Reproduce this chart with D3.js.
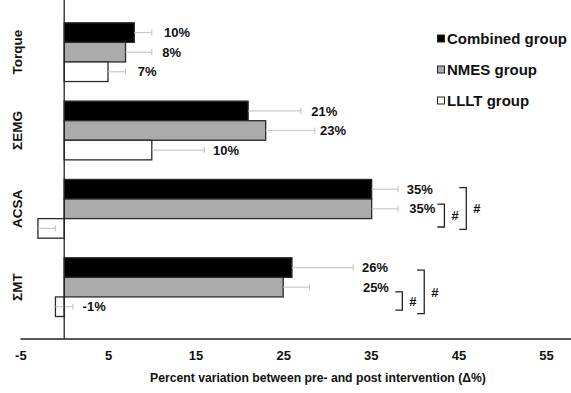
<!DOCTYPE html>
<html><head><meta charset="utf-8">
<script src="https://cdn.jsdelivr.net/npm/d3@7/dist/d3.min.js"></script>
<style>
html,body{margin:0;padding:0;background:#fff;}
svg text{font-family:"Liberation Sans",Arial,Helvetica,sans-serif;font-weight:bold;fill:#111;}
</style></head>
<body><svg id="c" width="571" height="393"></svg>
<script>
const categories = ["Torque", "ΣEMG", "ACSA", "ΣMT"];
const groups = ["Combined group", "NMES group", "LLLT group"];
// bar values (mean Δ%)
const combined = [8, 21, 35.1, 26];
const nmes = [7, 23, 35.1, 25];
const lllt = [5, 10, -3, -1];
// positive error bars
const combinedErr = [2, 6, 3, 7];
const nmesErr = [3, 5.6, 3, 3];
const llltErr = [2, 6, 2, 2];
// value labels and where they sit on the x axis (data units)
const combinedLabel = ["10%", "21%", "35%", "26%"];
const nmesLabel = ["8%", "23%", "35%", "25%"];
const llltLabel = ["7%", "10%", "", "-1%"];
const combinedLabelAt = [11.4, 28.2, 39.1, 34.0];
const nmesLabelAt = [11.2, 29.2, 39.4, 34.1];
const llltLabelAt = [8.4, 17.0, 0, 2.1];
const xTicks = [-5, 5, 15, 25, 35, 45, 55];
const xTitle = "Percent variation between pre- and post intervention (Δ%)";
// significance brackets: category, x position (data units), y span (fraction of group band)
const brackets = [
  {cat: "ACSA", x: 43.4, y0: 0.42, y1: 0.81, label: "#"},
  {cat: "ACSA", x: 45.9, y0: 0.14, y1: 0.85, label: "#"},
  {cat: "ΣMT", x: 38.6, y0: 0.58, y1: 0.89, label: "#"},
  {cat: "ΣMT", x: 41.1, y0: 0.21, y1: 0.95, label: "#"}
];

const series = [
  {name: groups[0], vals: combined, err: combinedErr, lab: combinedLabel, at: combinedLabelAt, fill: "#000000"},
  {name: groups[1], vals: nmes, err: nmesErr, lab: nmesLabel, at: nmesLabelAt, fill: "#ababab"},
  {name: groups[2], vals: lllt, err: llltErr, lab: llltLabel, at: llltLabelAt, fill: "#ffffff"}
];

const svg = d3.select("#c");
const x = d3.scaleLinear().domain([-5, 55]).range([20.4, 546.0]);
const y = d3.scaleBand().domain(categories).range([13, 326.3]).paddingInner(0.25).paddingOuter(0.125);
const yi = d3.scaleBand().domain(groups).range([0, y.bandwidth()]);

const axisY = 339;

// bars
series.forEach(s => {
  const g = svg.append("g");
  categories.forEach((c, i) => {
    const v = s.vals[i];
    const by = y(c) + yi(s.name);
    const h = yi.bandwidth();
    g.append("rect")
      .attr("x", Math.min(x(0), x(v)))
      .attr("y", by)
      .attr("width", Math.abs(x(v) - x(0)))
      .attr("height", h)
      .attr("fill", s.fill)
      .attr("stroke", "#2a2a2a")
      .attr("stroke-width", 1.3);
    // error bar (positive direction)
    const e0 = x(v), e1 = x(v + s.err[i]);
    const cy = by + h / 2;
    g.append("line").attr("x1", e0).attr("x2", e1).attr("y1", cy).attr("y2", cy)
      .attr("stroke", "#c8c8c8").attr("stroke-width", 1.2);
    g.append("line").attr("x1", e1).attr("x2", e1).attr("y1", cy - 3).attr("y2", cy + 3)
      .attr("stroke", "#c8c8c8").attr("stroke-width", 1.2);
    if (s.lab[i]) {
      g.append("text").attr("x", x(s.at[i])).attr("y", cy)
        .attr("dy", "0.36em").attr("font-size", 13).text(s.lab[i]);
    }
  });
});

// axes
svg.append("line").attr("x1", x(0)).attr("x2", x(0)).attr("y1", 0).attr("y2", axisY)
  .attr("stroke", "#222").attr("stroke-width", 1.3);
svg.append("line").attr("x1", x(-5)).attr("x2", 571).attr("y1", axisY).attr("y2", axisY)
  .attr("stroke", "#222").attr("stroke-width", 1.3);

const xAxis = d3.axisBottom(x).tickValues(xTicks).tickSize(0).tickPadding(12).tickFormat(d => String(d));
const ga = svg.append("g").attr("transform", `translate(0,${axisY})`).call(xAxis);
ga.select(".domain").remove();
ga.selectAll("text").attr("font-size", 13).attr("font-family", null).attr("fill", "#111");

svg.append("text").attr("x", 318).attr("y", 382).attr("text-anchor", "middle")
  .attr("font-size", 12.2).text(xTitle);

// category labels
categories.forEach(c => {
  const cy = y(c) + y.bandwidth() / 2;
  svg.append("text").attr("transform", `translate(17,${cy}) rotate(-90)`)
    .attr("text-anchor", "middle").attr("dy", "0.36em").attr("font-size", 13.5).text(c);
});

// legend
const leg = svg.append("g");
series.forEach((s, i) => {
  const ly = 39 + i * 31;
  leg.append("rect").attr("x", 437.5).attr("y", ly - 4).attr("width", 7).attr("height", 7)
    .attr("fill", s.fill).attr("stroke", "#222").attr("stroke-width", 1);
  leg.append("text").attr("x", 447).attr("y", ly).attr("dy", "0.36em")
    .attr("font-size", 15).text(s.name);
});

// significance brackets
brackets.forEach(b => {
  const y0 = y(b.cat) + b.y0 * y.bandwidth();
  const y1 = y(b.cat) + b.y1 * y.bandwidth();
  const bx = x(b.x);
  svg.append("path")
    .attr("d", `M${bx - 7},${y0}H${bx}V${y1}H${bx - 7}`)
    .attr("fill", "none").attr("stroke", "#222").attr("stroke-width", 1.3);
  svg.append("text").attr("x", bx + 7).attr("y", (y0 + y1) / 2)
    .attr("dy", "0.36em").attr("font-size", 13).text(b.label);
});
</script></body></html>
